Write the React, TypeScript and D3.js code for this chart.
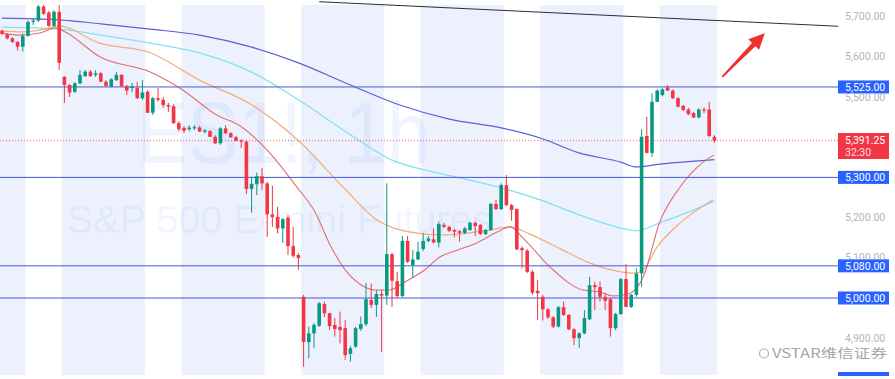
import React from 'react';
import * as d3 from 'd3';

const W = 895;
const H = 379;

// OHLC per hourly candle: [open, high, low, close]
const candles: [number, number, number, number][] = [
  [5665,5668,5654,5657],[5656,5659,5643,5646],[5646,5649,5634,5637],[5637,5639,5615,5625],
  [5625,5658,5613,5652],[5652,5691,5650,5687],[5687,5696,5679,5690],[5690,5729,5687,5725],
  [5725,5729,5704,5707],[5710,5714,5674,5677],[5677,5716,5675,5712],[5712,5729,5567,5585],
  [5550,5552,5485,5530],[5530,5532,5500,5511],[5513,5537,5510,5534],[5534,5567,5532,5555],
  [5552,5567,5550,5563],[5563,5567,5550,5552],[5555,5567,5550,5559],[5559,5562,5537,5538],
  [5538,5542,5525,5527],[5526,5547,5524,5544],[5542,5562,5540,5555],[5555,5557,5525,5527],
  [5527,5530,5505,5516],[5522,5535,5512,5526],[5522,5538,5495,5497],[5497,5542,5493,5511],
  [5513,5517,5460,5461],[5461,5500,5455,5497],[5497,5522,5488,5493],[5493,5500,5473,5480],
  [5480,5485,5463,5476],[5477,5482,5433,5435],[5435,5440,5415,5420],[5423,5428,5410,5416],
  [5420,5430,5415,5424],[5422,5430,5418,5425],[5424,5428,5413,5414],[5414,5420,5410,5417],
  [5415,5418,5400,5401],[5401,5405,5383,5385],[5385,5425,5381,5422],[5422,5430,5408,5410],
  [5410,5413,5398,5400],[5400,5403,5390,5391],[5392,5395,5373,5389],[5389,5393,5259,5271],
  [5271,5302,5212,5284],[5283,5312,5256,5303],[5303,5323,5269,5285],[5285,5289,5152,5208],
  [5208,5279,5177,5201],[5202,5227,5161,5173],[5173,5199,5137,5196],[5200,5206,5107,5129],
  [5129,5177,5100,5105],[5107,5112,5070,5099],[5003,5008,4829,4891],[4890,4929,4850,4912],
  [4912,4938,4876,4933],[4931,4990,4928,4987],[4985,4991,4953,4962],[4962,4963,4920,4930],
  [4933,4950,4904,4923],[4928,4966,4887,4920],[4925,4945,4846,4858],[4861,4881,4842,4875],
  [4879,4928,4876,4925],[4923,4954,4918,4935],[4935,5037,4930,4997],[4995,5036,4975,4983],
  [4983,5020,4953,5010],[5010,5020,4866,5006],[5006,5285,4983,5109],[5109,5112,4978,5043],
  [5042,5065,4999,5005],[5005,5154,5002,5142],[5142,5154,5087,5090],[5082,5119,5050,5096],
  [5096,5140,5094,5115],[5122,5161,5117,5142],[5142,5154,5139,5148],[5146,5173,5136,5138],
  [5138,5190,5126,5184],[5182,5187,5174,5177],[5177,5180,5164,5167],[5169,5172,5151,5165],
  [5166,5169,5140,5162],[5162,5177,5159,5173],[5169,5190,5167,5187],[5187,5190,5154,5179],
  [5182,5184,5157,5159],[5159,5172,5157,5169],[5169,5236,5167,5234],[5234,5244,5219,5221],
  [5221,5285,5219,5281],[5281,5306,5229,5231],[5231,5234,5192,5219],[5221,5223,5119,5121],
  [5124,5129,5074,5119],[5118,5122,5062,5065],[5065,5070,5008,5013],[5018,5045,4945,5012],
  [5003,5008,4944,4972],[4972,4975,4948,4952],[4952,4955,4925,4929],[4929,4980,4927,4977],
  [4977,4991,4955,4958],[4958,4960,4920,4922],[4922,4925,4883,4900],[4900,4915,4876,4912],
  [4912,4970,4910,4950],[4947,5053,4945,5032],[5032,5041,4970,5027],[5027,5041,4991,5003],
  [5003,5012,4970,4993],[4997,5000,4904,4925],[4925,4963,4920,4960],[4960,5050,4958,5047],
  [5047,5085,4977,4978],[4978,5010,4975,5008],[5008,5074,5003,5061],[5061,5420,5028,5401],
  [5403,5451,5360,5361],[5361,5509,5351,5488],[5488,5519,5487,5516],[5505,5522,5502,5519],
  [5524,5530,5515,5516],[5516,5519,5495,5497],[5497,5500,5474,5476],[5478,5480,5465,5468],
  [5469,5473,5455,5457],[5460,5463,5448,5449],[5449,5472,5447,5469],[5469,5474,5460,5466],
  [5469,5488,5400,5403],[5401,5405,5386,5391.25],
];

// Moving averages: [candle index, price]
const maBlue: [number, number][] = [
  [0,5696],[11,5692],[19,5682],[28.5,5669],[38,5654],[48,5624],[57,5585],[67,5530],
  [76.5,5480],[86,5445],[96,5423],[103.5,5398],[111,5361],[119,5338],[122,5326],
  [126.5,5333],[134,5341],[137,5344],
];
const maCyan: [number, number][] = [
  [0,5674],[11,5669],[19,5654],[28.5,5634],[38,5610],[48,5562],[57,5493],[67,5406],
  [75,5343],[82,5316],[88,5299],[96,5274],[103.5,5244],[111,5207],[119,5174],[122,5167],
  [126.5,5187],[134,5224],[137,5241],
];
const maOrange: [number, number][] = [
  [0,5664],[4.4,5662],[8.3,5669],[10.8,5677],[18.8,5634],[28.5,5610],[38,5542],[47.7,5483],
  [57.3,5388],[65.6,5276],[72.1,5194],[78.5,5164],[84.8,5157],[90,5162],[93.8,5169],
  [97.7,5177],[101.5,5159],[107.9,5119],[112.5,5090],[118.3,5067],[121.7,5062],[123.3,5070],
  [126,5127],[130.4,5187],[136.7,5244],
];
const maRed: [number, number][] = [
  [0,5659],[3.5,5654],[7.3,5659],[10.2,5672],[12.5,5659],[18.8,5600],[28.5,5562],[34.8,5517],
  [41.3,5455],[45.8,5428],[51,5368],[56.7,5276],[60.2,5214],[63.1,5132],[66,5070],[68.8,5035],
  [71.7,5020],[74.6,5020],[77.5,5040],[81,5067],[84.2,5102],[87.5,5119],[91.3,5137],
  [95.2,5164],[97.7,5177],[100.2,5149],[105.4,5077],[111.7,5020],[115,5015],[117.5,5005],
  [120.8,5012],[123.3,5052],[126.5,5189],[130.4,5276],[134.2,5331],[136.9,5356],
];

const levels = [5525, 5300, 5080, 5000];
const lastPrice = 5391.25;
const countdown = '32:30';
// axis ticks; those fully hidden behind price boxes in the reference are left out,
// partly hidden ones are clipped to their visible part
const yTicks = [5700, 5600, 5500, 5200, 5100, 4900];
const sessionStarts = [-11.5, 11.5, 34.5, 57.5, 80.5, 103.5, 126.5];
const sessionLen = 16;
const trendLine: [number, number][] = [[61, 5737], [161, 5676]];
const arrowPts: [number, number][] = [[138.5, 5550], [146.7, 5659]];
const titleText = 'ES1!, 1h';
const subtitleText = 'S&P 500 E-mini Futures';
const brandText = 'VSTAR维信证券';

const UP = '#089981';
const DOWN = '#f23645';
const LEVEL = '#4259d9';
const BOX = '#2962ff';

export default function App() {
  const x = d3.scaleLinear().domain([0, 100]).range([2, 522]);
  const y = d3.scaleLinear().domain([4900, 5700]).range([338.2, 16.6]);
  const fmt = d3.format(',.2f');
  const paneRight = 838;
  const lastX = x(candles.length - 0.5);

  const line = d3
    .line<[number, number]>()
    .x((d) => x(d[0]))
    .y((d) => y(d[1]))
    .curve(d3.curveMonotoneX);

  const bw = 3.6;

  // arrow polygon
  const [a0, a1] = arrowPts;
  const tx = x(a0[0]), ty = y(a0[1]), hx = x(a1[0]), hy = y(a1[1]);
  const len = Math.hypot(hx - tx, hy - ty);
  const ux = (hx - tx) / len, uy = (hy - ty) / len;
  const px = -uy, py = ux;
  const headLen = 16, headW = 7.5, shaftW = 2.4;
  const bx = hx - ux * headLen, by = hy - uy * headLen;
  const arrowPath = [
    [tx + px * 0.9, ty + py * 0.9],
    [bx + px * shaftW, by + py * shaftW],
    [bx + px * headW, by + py * headW],
    [hx, hy],
    [bx - px * headW, by - py * headW],
    [bx - px * shaftW, by - py * shaftW],
    [tx - px * 0.9, ty - py * 0.9],
  ]
    .map((p, i) => (i ? 'L' : 'M') + p[0].toFixed(1) + ',' + p[1].toFixed(1))
    .join('') + 'Z';

  const labelFont = 'Roboto, "Liberation Sans", sans-serif';
  const boxH = 13;

  // visible region for axis labels: everything except the price boxes
  const boxes = levels.map((lv) => [y(lv) - boxH / 2, y(lv) + boxH / 2]);
  boxes.push([y(lastPrice) - 7.7, y(lastPrice) + 18.3]);
  const clipD =
    `M0,0H${W}V${H}H0Z` +
    boxes.map((b) => `M${paneRight},${b[0]}V${b[1]}H${paneRight + 51}V${b[0]}Z`).join('');

  return (
    <svg
      width={W}
      height={H}
      style={{ position: 'absolute', left: 0, top: 0, background: '#ffffff' }}
    >
      <defs>
        <clipPath id="axisClip" clipRule="evenodd">
          <path d={clipD} clipRule="evenodd" />
        </clipPath>
      </defs>

      {/* session bands */}
      {sessionStarts.map((s, i) => {
        const x0 = Math.max(0, x(s));
        const x1 = Math.min(x(s + sessionLen), lastX);
        return <rect key={i} x={x0} y={5} width={Math.max(0, x1 - x0)} height={370} fill="#edf1fd" />;
      })}

      {/* watermark */}
      <text
        x={283}
        y={163}
        textAnchor="middle"
        fontFamily='"Liberation Sans", Arial, sans-serif'
        fontSize={88}
        fill="#2962ff"
        fillOpacity={0.07}
        textLength={293}
        lengthAdjust="spacingAndGlyphs"
      >
        {titleText}
      </text>
      <text
        x={279}
        y={233}
        textAnchor="middle"
        fontFamily='"Liberation Sans", Arial, sans-serif'
        fontSize={38}
        fill="#2962ff"
        fillOpacity={0.07}
        textLength={425}
        lengthAdjust="spacingAndGlyphs"
      >
        {subtitleText}
      </text>

      {/* moving averages */}
      <path d={line(maBlue) || ''} fill="none" stroke="#5c5ed6" strokeWidth={1.2} />
      <path d={line(maCyan) || ''} fill="none" stroke="#84e1ef" strokeWidth={1.3} />
      <path d={line(maOrange) || ''} fill="none" stroke="#f3ac78" strokeWidth={1.2} />
      <path d={line(maRed) || ''} fill="none" stroke="#df6f6f" strokeWidth={1.1} />

      {/* trend line */}
      <line
        x1={x(trendLine[0][0])}
        y1={y(trendLine[0][1])}
        x2={Math.min(paneRight, x(trendLine[1][0]))}
        y2={y(trendLine[1][1])}
        stroke="#2a2e39"
        strokeWidth={1}
      />

      {/* level lines */}
      {levels.map((lv) => (
        <line key={lv} x1={0} x2={paneRight} y1={y(lv)} y2={y(lv)} stroke={LEVEL} strokeWidth={1} />
      ))}

      {/* last price dotted line */}
      <line
        x1={0}
        x2={paneRight}
        y1={y(lastPrice)}
        y2={y(lastPrice)}
        stroke={DOWN}
        strokeWidth={1}
        strokeDasharray="1 2"
        strokeOpacity={0.8}
      />

      {/* candles */}
      {candles.map((c, i) => {
        const [o, h, l, cl] = c;
        const up = cl >= o;
        const col = up ? UP : DOWN;
        const cx = x(i);
        const top = y(Math.max(o, cl));
        const bot = y(Math.min(o, cl));
        return (
          <g key={i}>
            <line x1={cx} x2={cx} y1={y(h)} y2={y(l)} stroke={col} strokeWidth={1} />
            <rect x={cx - bw / 2} y={top} width={bw} height={Math.max(1, bot - top)} fill={col} />
          </g>
        );
      })}

      {/* arrow */}
      <path d={arrowPath} fill="#f0302a" />

      {/* axis labels */}
      <g clipPath="url(#axisClip)">
        {yTicks.map((t) => (
          <text
            key={t}
            x={845}
            y={y(t)}
            dy="0.35em"
            fontFamily={labelFont}
            fontSize={10.5}
            fill="#b2b5be"
          >
            {fmt(t)}
          </text>
        ))}
      </g>

      {/* level boxes */}
      {levels.map((lv) => (
        <g key={lv}>
          <rect x={paneRight} y={y(lv) - boxH / 2} width={51} height={boxH} fill={BOX} />
          <text
            x={845}
            y={y(lv)}
            dy="0.36em"
            fontFamily={labelFont}
            fontSize={10.5}
            fill="#ffffff"
          >
            {fmt(lv)}
          </text>
        </g>
      ))}

      {/* last price box */}
      <rect x={paneRight} y={y(lastPrice) - 7.7} width={51} height={26} fill={DOWN} />
      <text x={845} y={y(lastPrice)} dy="0.36em" fontFamily={labelFont} fontSize={10.5} fill="#ffffff">
        {fmt(lastPrice)}
      </text>
      <text x={845} y={y(lastPrice) + 11.5} dy="0.36em" fontFamily={labelFont} fontSize={10.5} fill="#ffffff" fillOpacity={0.85}>
        {countdown}
      </text>

      {/* partial box at bottom */}
      <rect x={paneRight} y={372} width={51} height={4} fill={BOX} />

      {/* brand watermark */}
      <g opacity={0.8}>
        <circle cx={764} cy={353.5} r={4.5} fill="none" stroke="#9a9a9a" strokeWidth={1.2} />
        <text
          x={772}
          y={353.5}
          dy="0.36em"
          fontFamily='"Noto Sans CJK SC", "Noto Sans", sans-serif'
          fontSize={12.5}
          fill="#8f8f8f"
          textLength={115}
          lengthAdjust="spacingAndGlyphs"
        >
          {brandText}
        </text>
      </g>
    </svg>
  );
}
